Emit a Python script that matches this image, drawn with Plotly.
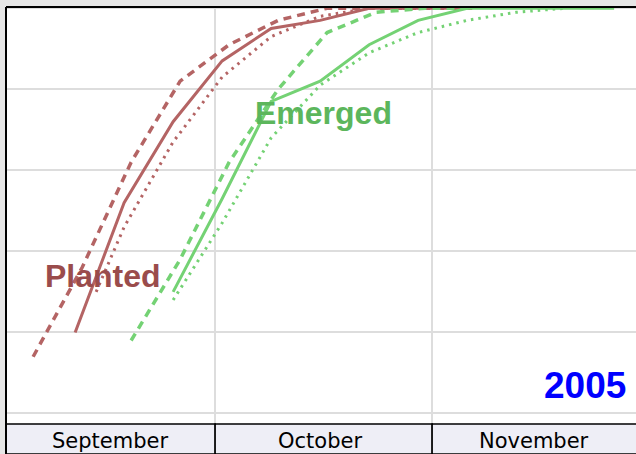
import plotly.graph_objects as go

# ---- data (percent complete, week-ending dates) ----
planted_2005_dates = ["2005-09-11", "2005-09-18", "2005-09-25", "2005-10-02", "2005-10-09",
                      "2005-10-16", "2005-10-23", "2005-10-30", "2005-11-06"]
planted_2005 = [20, 52, 72, 87, 95, 97, 100, 100, 100]

planted_last_dates = ["2005-09-05", "2005-09-12", "2005-09-19", "2005-09-26", "2005-10-03",
                      "2005-10-10", "2005-10-17", "2005-10-24", "2005-10-31", "2005-11-07"]
planted_last = [14, 36, 62, 82, 91, 97, 100, 100, 100, 100]

planted_avg_dates = ["2005-09-14", "2005-09-18", "2005-09-25", "2005-10-02", "2005-10-09",
                     "2005-10-16", "2005-10-23", "2005-10-30"]
planted_avg = [30, 46, 67, 83, 93, 98, 100, 100]

emerged_2005_dates = ["2005-09-25", "2005-10-02", "2005-10-09", "2005-10-16", "2005-10-23",
                      "2005-10-30", "2005-11-06", "2005-11-13", "2005-11-20", "2005-11-27"]
emerged_2005 = [30, 53, 77, 82, 91, 97, 100, 100, 100, 100]

emerged_last_dates = ["2005-09-19", "2005-09-26", "2005-10-03", "2005-10-10", "2005-10-17",
                      "2005-10-24", "2005-10-31", "2005-11-07"]
emerged_last = [18, 38, 62, 80, 94, 99, 100, 100]

emerged_avg_dates = ["2005-09-25", "2005-10-02", "2005-10-09", "2005-10-16", "2005-10-23",
                     "2005-10-30", "2005-11-06", "2005-11-13", "2005-11-20"]
emerged_avg = [28, 47, 68, 81, 89, 94, 97, 99, 100]

months = ["September", "October", "November"]
month_starts = ["2005-09-01", "2005-10-01", "2005-11-01"]
month_ends = ["2005-10-01", "2005-11-01", "2005-12-01"]
month_mids = ["2005-09-16", "2005-10-16", "2005-11-15 12:00"]

y_ticks = [0, 20, 40, 60, 80, 100]

RED = "#b46464"
GREEN = "#74d274"

fig = go.Figure()

def add(xs, ys, color, dash, width):
    fig.add_trace(go.Scatter(x=xs, y=ys, mode="lines",
                             line=dict(color=color, width=width, dash=dash),
                             hoverinfo="skip", showlegend=False))

add(planted_last_dates, planted_last, RED, "8px,6px", 3.5)
add(planted_avg_dates, planted_avg, RED, "2.5px,5px", 3)
add(planted_2005_dates, planted_2005, RED, "solid", 3)
add(emerged_last_dates, emerged_last, GREEN, "8px,6px", 3.5)
add(emerged_avg_dates, emerged_avg, GREEN, "2.5px,5px", 3)
add(emerged_2005_dates, emerged_2005, GREEN, "solid", 3)

shapes = []
for s, e in zip(month_starts, month_ends):
    shapes.append(dict(type="rect", xref="x", yref="paper", x0=s, x1=e, y0=-0.072, y1=0,
                       fillcolor="#eeeef6", line=dict(color="black", width=1.5), layer="above"))
# plot frame left/top
shapes.append(dict(type="line", xref="paper", yref="paper", x0=0, x1=0, y0=-0.075, y1=1,
                   line=dict(color="black", width=2)))
shapes.append(dict(type="line", xref="paper", yref="paper", x0=0, x1=1, y0=1, y1=1,
                   line=dict(color="black", width=2)))

annotations = []
for m, mid in zip(months, month_mids):
    annotations.append(dict(x=mid, y=-0.04, xref="x", yref="paper", text=m, showarrow=False,
                            font=dict(family="DejaVu Sans", size=21, color="black"),
                            xanchor="center", yanchor="middle"))
annotations.append(dict(x="2005-09-15", y=34.0, xref="x", yref="y", text="<b>Planted</b>",
                        showarrow=False, font=dict(family="Liberation Sans", size=32, color="#9a4c4c"),
                        xanchor="center", yanchor="middle"))
annotations.append(dict(x="2005-10-16 12:00", y=74.2, xref="x", yref="y", text="<b>Emerged</b>",
                        showarrow=False, font=dict(family="Liberation Sans", size=32, color="#5cb65c"),
                        xanchor="center", yanchor="middle"))
annotations.append(dict(x="2005-11-29", y=7.0, xref="x", yref="y", text="<b>2005</b>",
                        showarrow=False, font=dict(family="Liberation Sans", size=37, color="#0000ff"),
                        xanchor="right", yanchor="middle"))

fig.update_layout(
    width=636, height=454,
    margin=dict(l=6, r=0, t=7, b=30),
    paper_bgcolor="#e6e6e6",
    plot_bgcolor="white",
    shapes=shapes,
    annotations=annotations,
    xaxis=dict(type="date", range=["2005-09-01 03:00", "2005-11-30 03:00"],
               tickvals=["2005-10-01", "2005-11-01"], showticklabels=False,
               showgrid=True, gridcolor="#dddddd", gridwidth=2, zeroline=False,
               showline=False, ticks=""),
    yaxis=dict(range=[-2.6, 100.3], tickvals=y_ticks, showticklabels=False,
               showgrid=True, gridcolor="#dddddd", gridwidth=2, zeroline=False,
               showline=False, ticks=""),
)

fig.write_html("out.html", config={"displayModeBar": False},
               post_script="document.body.style.margin='0';document.body.style.overflow='hidden';")
